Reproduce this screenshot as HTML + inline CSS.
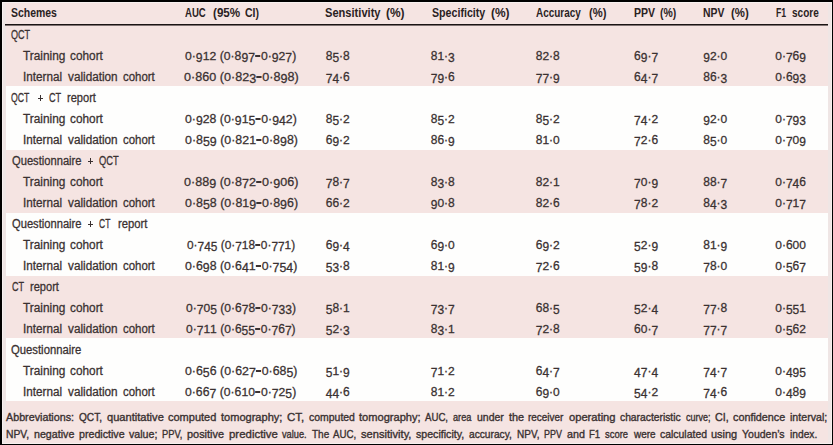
<!DOCTYPE html>
<html><head><meta charset="utf-8"><style>
html,body{margin:0;padding:0;width:833px;height:445px;overflow:hidden;background:#000}
#in{position:absolute;left:2px;top:2px;width:830px;height:442px;background:#f5e4e2;overflow:hidden}
.b{position:absolute;left:3.5px;width:822px;background:#fefefd}
.e{position:absolute;background:#f7f0ef}
div.t,div.h,div.fn{position:absolute;white-space:nowrap;font-family:"Liberation Sans",sans-serif;transform-origin:0 0}
.t{font-size:12.0px;line-height:12.0px;color:#3a3131;-webkit-text-stroke:0.28px #3a3131}
.fn{font-size:11.0px;line-height:11.0px;color:#3a3131;-webkit-text-stroke:0.36px #3a3131}
.h{font-weight:bold;font-size:12.0px;line-height:12.0px;color:#2a2222}
i{font-style:normal;display:inline-block}
b.n{display:inline-block;width:5px;height:1.8px;margin:0 0.4px;vertical-align:2.4px;background:#3a3131}
i.d{transform:translateY(1.8px) scaleY(1.1);transform-origin:50% 9.97px}
i.s{transform:scaleY(0.9);transform-origin:50% 9.97px}
i.a{transform:scaleY(1.07);transform-origin:50% 9.97px}
.s3{position:absolute;background:#efe6e5}
.pl{position:absolute;background:#3a3131}
#hl{position:absolute;left:3px;top:22px;width:823px;height:1px;background:#1a1414;box-shadow:0 1px 0 rgba(30,22,22,0.55)}
</style></head><body>
<div id="in">
<div class="b" style="top:84px;height:64px"></div>
<div class="b" style="top:210.5px;height:63.0px"></div>
<div class="b" style="top:336px;height:63px"></div>
<div class="s3" style="left:1px;top:1px;width:2.5px;height:440px"></div><div class="s3" style="left:825.5px;top:1px;width:3.5px;height:440px"></div>
<div id="hl"></div>
<div class="e" style="left:0;top:0;width:1px;height:442px"></div><div class="e" style="right:0;top:0;width:1px;height:442px"></div><div class="e" style="left:0;top:0;width:830px;height:1px"></div><div class="e" style="left:0;bottom:0;width:830px;height:1px"></div>
<div class="h" style="left:9.10px;top:4.63px;transform:scaleX(0.8713)">Schemes</div>
<div class="h" style="left:183.20px;top:4.63px;transform:scaleX(0.7975)">AUC</div>
<div class="h" style="left:210.70px;top:4.63px;transform:scaleX(0.9702)">(95%</div>
<div class="h" style="left:243.10px;top:4.63px;transform:scaleX(0.8750)">CI)</div>
<div class="h" style="left:323.10px;top:4.63px;transform:scaleX(0.9246)">Sensitivity</div>
<div class="h" style="left:384.30px;top:4.63px;transform:scaleX(0.9965)">(%)</div>
<div class="h" style="left:429.90px;top:4.63px;transform:scaleX(0.8865)">Specificity</div>
<div class="h" style="left:488.80px;top:4.63px;transform:scaleX(0.9965)">(%)</div>
<div class="h" style="left:534.30px;top:4.63px;transform:scaleX(0.8278)">Accuracy</div>
<div class="h" style="left:587.10px;top:4.63px;transform:scaleX(0.9322)">(%)</div>
<div class="h" style="left:631.50px;top:4.63px;transform:scaleX(0.8747)">PPV</div>
<div class="h" style="left:658.00px;top:4.63px;transform:scaleX(0.8679)">(%)</div>
<div class="h" style="left:701.30px;top:4.63px;transform:scaleX(0.8675)">NPV</div>
<div class="h" style="left:728.90px;top:4.63px;transform:scaleX(0.9482)">(%)</div>
<div class="h" style="left:773.90px;top:4.63px;transform:scaleX(0.7257)">F1</div>
<div class="h" style="left:790.40px;top:4.63px;transform:scaleX(0.8347)">score</div>
<div class="t" style="left:9.20px;top:26.53px;transform:scaleX(0.7538)">QCT</div>
<div class="t" style="left:21.20px;top:47.53px;transform:scaleX(0.9873)">Training</div>
<div class="t" style="left:68.40px;top:47.53px;transform:scaleX(0.9848)">cohort</div>
<div class="t" style="left:183.49px;top:47.53px;transform:scaleX(1.0168)"><i class="s">0</i>·<i class="d">9</i><i class="s">1</i><i class="s">2</i> (<i class="s">0</i>·<i class="a">8</i><i class="d">9</i><i class="d">7</i><b class="n"></b><i class="s">0</i>·<i class="d">9</i><i class="s">2</i><i class="d">7</i>)</div>
<div class="t" style="left:323.70px;top:47.53px"><i class="a">8</i><i class="d">5</i>·<i class="a">8</i></div>
<div class="t" style="left:428.70px;top:47.53px"><i class="a">8</i><i class="s">1</i>·<i class="d">3</i></div>
<div class="t" style="left:533.70px;top:47.53px"><i class="a">8</i><i class="s">2</i>·<i class="a">8</i></div>
<div class="t" style="left:632.00px;top:47.53px"><i class="a">6</i><i class="d">9</i>·<i class="d">7</i></div>
<div class="t" style="left:701.20px;top:47.53px"><i class="d">9</i><i class="s">2</i>·<i class="s">0</i></div>
<div class="t" style="left:773.20px;top:47.53px"><i class="s">0</i>·<i class="d">7</i><i class="a">6</i><i class="d">9</i></div>
<div class="t" style="left:20.63px;top:68.53px;transform:scaleX(0.9750)">Internal</div>
<div class="t" style="left:65.90px;top:68.53px;transform:scaleX(0.9795)">validation</div>
<div class="t" style="left:121.40px;top:68.53px;transform:scaleX(0.9524)">cohort</div>
<div class="t" style="left:181.76px;top:68.53px;transform:scaleX(1.0482)"><i class="s">0</i>·<i class="a">8</i><i class="a">6</i><i class="s">0</i> (<i class="s">0</i>·<i class="a">8</i><i class="s">2</i><i class="d">3</i><b class="n"></b><i class="s">0</i>·<i class="a">8</i><i class="d">9</i><i class="a">8</i>)</div>
<div class="t" style="left:323.70px;top:68.53px"><i class="d">7</i><i class="d">4</i>·<i class="a">6</i></div>
<div class="t" style="left:428.70px;top:68.53px"><i class="d">7</i><i class="d">9</i>·<i class="a">6</i></div>
<div class="t" style="left:533.70px;top:68.53px"><i class="d">7</i><i class="d">7</i>·<i class="d">9</i></div>
<div class="t" style="left:632.00px;top:68.53px"><i class="a">6</i><i class="d">4</i>·<i class="d">7</i></div>
<div class="t" style="left:701.20px;top:68.53px"><i class="a">8</i><i class="a">6</i>·<i class="d">3</i></div>
<div class="t" style="left:773.20px;top:68.53px"><i class="s">0</i>·<i class="a">6</i><i class="d">9</i><i class="d">3</i></div>
<div class="t" style="left:9.40px;top:89.53px;transform:scaleX(0.7269)">QCT</div>
<div class="pl" style="left:35.70px;top:95.65px;width:5.4px;height:1.3px"></div><div class="pl" style="left:37.70px;top:93.40px;width:1.4px;height:5.8px"></div>
<div class="t" style="left:46.70px;top:89.53px;transform:scaleX(0.7620)">CT</div>
<div class="t" style="left:65.20px;top:89.53px;transform:scaleX(0.9215)">report</div>
<div class="t" style="left:21.20px;top:110.53px;transform:scaleX(0.9873)">Training</div>
<div class="t" style="left:68.40px;top:110.53px;transform:scaleX(0.9848)">cohort</div>
<div class="t" style="left:183.23px;top:110.53px;transform:scaleX(1.0215)"><i class="s">0</i>·<i class="d">9</i><i class="s">2</i><i class="a">8</i> (<i class="s">0</i>·<i class="d">9</i><i class="s">1</i><i class="d">5</i><b class="n"></b><i class="s">0</i>·<i class="d">9</i><i class="d">4</i><i class="s">2</i>)</div>
<div class="t" style="left:323.70px;top:110.53px"><i class="a">8</i><i class="d">5</i>·<i class="s">2</i></div>
<div class="t" style="left:428.70px;top:110.53px"><i class="a">8</i><i class="d">5</i>·<i class="s">2</i></div>
<div class="t" style="left:533.70px;top:110.53px"><i class="a">8</i><i class="d">5</i>·<i class="s">2</i></div>
<div class="t" style="left:632.00px;top:110.53px"><i class="d">7</i><i class="d">4</i>·<i class="s">2</i></div>
<div class="t" style="left:701.20px;top:110.53px"><i class="d">9</i><i class="s">2</i>·<i class="s">0</i></div>
<div class="t" style="left:773.20px;top:110.53px"><i class="s">0</i>·<i class="d">7</i><i class="d">9</i><i class="d">3</i></div>
<div class="t" style="left:20.63px;top:131.53px;transform:scaleX(0.9750)">Internal</div>
<div class="t" style="left:65.90px;top:131.53px;transform:scaleX(0.9795)">validation</div>
<div class="t" style="left:121.40px;top:131.53px;transform:scaleX(0.9524)">cohort</div>
<div class="t" style="left:182.62px;top:131.53px;transform:scaleX(1.0325)"><i class="s">0</i>·<i class="a">8</i><i class="d">5</i><i class="d">9</i> (<i class="s">0</i>·<i class="a">8</i><i class="s">2</i><i class="s">1</i><b class="n"></b><i class="s">0</i>·<i class="a">8</i><i class="d">9</i><i class="a">8</i>)</div>
<div class="t" style="left:323.70px;top:131.53px"><i class="a">6</i><i class="d">9</i>·<i class="s">2</i></div>
<div class="t" style="left:428.70px;top:131.53px"><i class="a">8</i><i class="a">6</i>·<i class="d">9</i></div>
<div class="t" style="left:533.70px;top:131.53px"><i class="a">8</i><i class="s">1</i>·<i class="s">0</i></div>
<div class="t" style="left:632.00px;top:131.53px"><i class="d">7</i><i class="s">2</i>·<i class="a">6</i></div>
<div class="t" style="left:701.20px;top:131.53px"><i class="a">8</i><i class="d">5</i>·<i class="s">0</i></div>
<div class="t" style="left:773.20px;top:131.53px"><i class="s">0</i>·<i class="d">7</i><i class="s">0</i><i class="d">9</i></div>
<div class="t" style="left:9.80px;top:152.53px;transform:scaleX(0.9302)">Questionnaire</div>
<div class="pl" style="left:86.10px;top:158.65px;width:5.4px;height:1.3px"></div><div class="pl" style="left:88.10px;top:156.40px;width:1.4px;height:5.8px"></div>
<div class="t" style="left:97.20px;top:152.53px;transform:scaleX(0.7769)">QCT</div>
<div class="t" style="left:21.20px;top:173.53px;transform:scaleX(0.9873)">Training</div>
<div class="t" style="left:68.40px;top:173.53px;transform:scaleX(0.9848)">cohort</div>
<div class="t" style="left:181.86px;top:173.53px;transform:scaleX(1.0464)"><i class="s">0</i>·<i class="a">8</i><i class="a">8</i><i class="d">9</i> (<i class="s">0</i>·<i class="a">8</i><i class="d">7</i><i class="s">2</i><b class="n"></b><i class="s">0</i>·<i class="d">9</i><i class="s">0</i><i class="a">6</i>)</div>
<div class="t" style="left:323.70px;top:173.53px"><i class="d">7</i><i class="a">8</i>·<i class="d">7</i></div>
<div class="t" style="left:428.70px;top:173.53px"><i class="a">8</i><i class="d">3</i>·<i class="a">8</i></div>
<div class="t" style="left:533.70px;top:173.53px"><i class="a">8</i><i class="s">2</i>·<i class="s">1</i></div>
<div class="t" style="left:632.00px;top:173.53px"><i class="d">7</i><i class="s">0</i>·<i class="d">9</i></div>
<div class="t" style="left:701.20px;top:173.53px"><i class="a">8</i><i class="a">8</i>·<i class="d">7</i></div>
<div class="t" style="left:773.20px;top:173.53px"><i class="s">0</i>·<i class="d">7</i><i class="d">4</i><i class="a">6</i></div>
<div class="t" style="left:20.63px;top:194.53px;transform:scaleX(0.9750)">Internal</div>
<div class="t" style="left:65.90px;top:194.53px;transform:scaleX(0.9795)">validation</div>
<div class="t" style="left:121.40px;top:194.53px;transform:scaleX(0.9524)">cohort</div>
<div class="t" style="left:182.57px;top:194.53px;transform:scaleX(1.0334)"><i class="s">0</i>·<i class="a">8</i><i class="d">5</i><i class="a">8</i> (<i class="s">0</i>·<i class="a">8</i><i class="s">1</i><i class="d">9</i><b class="n"></b><i class="s">0</i>·<i class="a">8</i><i class="d">9</i><i class="a">6</i>)</div>
<div class="t" style="left:323.70px;top:194.53px"><i class="a">6</i><i class="a">6</i>·<i class="s">2</i></div>
<div class="t" style="left:428.70px;top:194.53px"><i class="d">9</i><i class="s">0</i>·<i class="a">8</i></div>
<div class="t" style="left:533.70px;top:194.53px"><i class="a">8</i><i class="s">2</i>·<i class="a">6</i></div>
<div class="t" style="left:632.00px;top:194.53px"><i class="d">7</i><i class="a">8</i>·<i class="s">2</i></div>
<div class="t" style="left:701.20px;top:194.53px"><i class="a">8</i><i class="d">4</i>·<i class="d">3</i></div>
<div class="t" style="left:773.20px;top:194.53px"><i class="s">0</i>·<i class="d">7</i><i class="s">1</i><i class="d">7</i></div>
<div class="t" style="left:9.80px;top:215.53px;transform:scaleX(0.9302)">Questionnaire</div>
<div class="pl" style="left:86.10px;top:221.65px;width:5.4px;height:1.3px"></div><div class="pl" style="left:88.10px;top:219.40px;width:1.4px;height:5.8px"></div>
<div class="t" style="left:97.20px;top:215.53px;transform:scaleX(0.7080)">CT</div>
<div class="t" style="left:115.60px;top:215.53px;transform:scaleX(0.9371)">report</div>
<div class="t" style="left:21.20px;top:236.53px;transform:scaleX(0.9873)">Training</div>
<div class="t" style="left:68.40px;top:236.53px;transform:scaleX(0.9848)">cohort</div>
<div class="t" style="left:185.01px;top:236.53px;transform:scaleX(0.9892)"><i class="s">0</i>·<i class="d">7</i><i class="d">4</i><i class="d">5</i> (<i class="s">0</i>·<i class="d">7</i><i class="s">1</i><i class="a">8</i><b class="n"></b><i class="s">0</i>·<i class="d">7</i><i class="d">7</i><i class="s">1</i>)</div>
<div class="t" style="left:323.70px;top:236.53px"><i class="a">6</i><i class="d">9</i>·<i class="d">4</i></div>
<div class="t" style="left:428.70px;top:236.53px"><i class="a">6</i><i class="d">9</i>·<i class="s">0</i></div>
<div class="t" style="left:533.70px;top:236.53px"><i class="a">6</i><i class="d">9</i>·<i class="s">2</i></div>
<div class="t" style="left:632.00px;top:236.53px"><i class="d">5</i><i class="s">2</i>·<i class="d">9</i></div>
<div class="t" style="left:701.20px;top:236.53px"><i class="a">8</i><i class="s">1</i>·<i class="d">9</i></div>
<div class="t" style="left:773.20px;top:236.53px"><i class="s">0</i>·<i class="a">6</i><i class="s">0</i><i class="s">0</i></div>
<div class="t" style="left:20.63px;top:257.53px;transform:scaleX(0.9750)">Internal</div>
<div class="t" style="left:65.90px;top:257.53px;transform:scaleX(0.9795)">validation</div>
<div class="t" style="left:121.40px;top:257.53px;transform:scaleX(0.9524)">cohort</div>
<div class="t" style="left:182.93px;top:257.53px;transform:scaleX(1.0270)"><i class="s">0</i>·<i class="a">6</i><i class="d">9</i><i class="a">8</i> (<i class="s">0</i>·<i class="a">6</i><i class="d">4</i><i class="s">1</i><b class="n"></b><i class="s">0</i>·<i class="d">7</i><i class="d">5</i><i class="d">4</i>)</div>
<div class="t" style="left:323.70px;top:257.53px"><i class="d">5</i><i class="d">3</i>·<i class="a">8</i></div>
<div class="t" style="left:428.70px;top:257.53px"><i class="a">8</i><i class="s">1</i>·<i class="d">9</i></div>
<div class="t" style="left:533.70px;top:257.53px"><i class="d">7</i><i class="s">2</i>·<i class="a">6</i></div>
<div class="t" style="left:632.00px;top:257.53px"><i class="d">5</i><i class="d">9</i>·<i class="a">8</i></div>
<div class="t" style="left:701.20px;top:257.53px"><i class="d">7</i><i class="a">8</i>·<i class="s">0</i></div>
<div class="t" style="left:773.20px;top:257.53px"><i class="s">0</i>·<i class="d">5</i><i class="a">6</i><i class="d">7</i></div>
<div class="t" style="left:9.80px;top:278.53px;transform:scaleX(0.7560)">CT</div>
<div class="t" style="left:28.20px;top:278.53px;transform:scaleX(0.9215)">report</div>
<div class="t" style="left:21.20px;top:299.53px;transform:scaleX(0.9873)">Training</div>
<div class="t" style="left:68.40px;top:299.53px;transform:scaleX(0.9848)">cohort</div>
<div class="t" style="left:184.10px;top:299.53px;transform:scaleX(1.0058)"><i class="s">0</i>·<i class="d">7</i><i class="s">0</i><i class="d">5</i> (<i class="s">0</i>·<i class="a">6</i><i class="d">7</i><i class="a">8</i><b class="n"></b><i class="s">0</i>·<i class="d">7</i><i class="d">3</i><i class="d">3</i>)</div>
<div class="t" style="left:323.70px;top:299.53px"><i class="d">5</i><i class="a">8</i>·<i class="s">1</i></div>
<div class="t" style="left:428.70px;top:299.53px"><i class="d">7</i><i class="d">3</i>·<i class="d">7</i></div>
<div class="t" style="left:533.70px;top:299.53px"><i class="a">6</i><i class="a">8</i>·<i class="d">5</i></div>
<div class="t" style="left:632.00px;top:299.53px"><i class="d">5</i><i class="s">2</i>·<i class="d">4</i></div>
<div class="t" style="left:701.20px;top:299.53px"><i class="d">7</i><i class="d">7</i>·<i class="a">8</i></div>
<div class="t" style="left:773.20px;top:299.53px"><i class="s">0</i>·<i class="d">5</i><i class="d">5</i><i class="s">1</i></div>
<div class="t" style="left:20.63px;top:320.53px;transform:scaleX(0.9750)">Internal</div>
<div class="t" style="left:65.90px;top:320.53px;transform:scaleX(0.9795)">validation</div>
<div class="t" style="left:121.40px;top:320.53px;transform:scaleX(0.9524)">cohort</div>
<div class="t" style="left:184.30px;top:320.53px;transform:scaleX(1.0021)"><i class="s">0</i>·<i class="d">7</i><i class="s">1</i><i class="s">1</i> (<i class="s">0</i>·<i class="a">6</i><i class="d">5</i><i class="d">5</i><b class="n"></b><i class="s">0</i>·<i class="d">7</i><i class="a">6</i><i class="d">7</i>)</div>
<div class="t" style="left:323.70px;top:320.53px"><i class="d">5</i><i class="s">2</i>·<i class="d">3</i></div>
<div class="t" style="left:428.70px;top:320.53px"><i class="a">8</i><i class="d">3</i>·<i class="s">1</i></div>
<div class="t" style="left:533.70px;top:320.53px"><i class="d">7</i><i class="s">2</i>·<i class="a">8</i></div>
<div class="t" style="left:632.00px;top:320.53px"><i class="a">6</i><i class="s">0</i>·<i class="d">7</i></div>
<div class="t" style="left:701.20px;top:320.53px"><i class="d">7</i><i class="d">7</i>·<i class="d">7</i></div>
<div class="t" style="left:773.20px;top:320.53px"><i class="s">0</i>·<i class="d">5</i><i class="a">6</i><i class="s">2</i></div>
<div class="t" style="left:9.40px;top:341.53px;transform:scaleX(0.9408)">Questionnaire</div>
<div class="t" style="left:21.20px;top:362.53px;transform:scaleX(0.9873)">Training</div>
<div class="t" style="left:68.40px;top:362.53px;transform:scaleX(0.9848)">cohort</div>
<div class="t" style="left:182.88px;top:362.53px;transform:scaleX(1.0279)"><i class="s">0</i>·<i class="a">6</i><i class="d">5</i><i class="a">6</i> (<i class="s">0</i>·<i class="a">6</i><i class="s">2</i><i class="d">7</i><b class="n"></b><i class="s">0</i>·<i class="a">6</i><i class="a">8</i><i class="d">5</i>)</div>
<div class="t" style="left:323.70px;top:362.53px"><i class="d">5</i><i class="s">1</i>·<i class="d">9</i></div>
<div class="t" style="left:428.70px;top:362.53px"><i class="d">7</i><i class="s">1</i>·<i class="s">2</i></div>
<div class="t" style="left:533.70px;top:362.53px"><i class="a">6</i><i class="d">4</i>·<i class="d">7</i></div>
<div class="t" style="left:632.00px;top:362.53px"><i class="d">4</i><i class="d">7</i>·<i class="d">4</i></div>
<div class="t" style="left:701.20px;top:362.53px"><i class="d">7</i><i class="d">4</i>·<i class="d">7</i></div>
<div class="t" style="left:773.20px;top:362.53px"><i class="s">0</i>·<i class="d">4</i><i class="d">9</i><i class="d">5</i></div>
<div class="t" style="left:20.63px;top:383.53px;transform:scaleX(0.9750)">Internal</div>
<div class="t" style="left:65.90px;top:383.53px;transform:scaleX(0.9795)">validation</div>
<div class="t" style="left:121.40px;top:383.53px;transform:scaleX(0.9524)">cohort</div>
<div class="t" style="left:183.49px;top:383.53px;transform:scaleX(1.0168)"><i class="s">0</i>·<i class="a">6</i><i class="a">6</i><i class="d">7</i> (<i class="s">0</i>·<i class="a">6</i><i class="s">1</i><i class="s">0</i><b class="n"></b><i class="s">0</i>·<i class="d">7</i><i class="s">2</i><i class="d">5</i>)</div>
<div class="t" style="left:323.70px;top:383.53px"><i class="d">4</i><i class="d">4</i>·<i class="a">6</i></div>
<div class="t" style="left:428.70px;top:383.53px"><i class="a">8</i><i class="s">1</i>·<i class="s">2</i></div>
<div class="t" style="left:533.70px;top:383.53px"><i class="a">6</i><i class="d">9</i>·<i class="s">0</i></div>
<div class="t" style="left:632.00px;top:383.53px"><i class="d">5</i><i class="d">4</i>·<i class="s">2</i></div>
<div class="t" style="left:701.20px;top:383.53px"><i class="d">7</i><i class="d">4</i>·<i class="a">6</i></div>
<div class="t" style="left:773.20px;top:383.53px"><i class="s">0</i>·<i class="d">4</i><i class="a">8</i><i class="d">9</i></div>
<div class="fn" style="left:4.15px;top:410.16px;transform:scaleX(0.9763)">Abbreviations:</div>
<div class="fn" style="left:76.85px;top:410.16px;transform:scaleX(0.9200)">QCT,</div>
<div class="fn" style="left:104.55px;top:410.16px;transform:scaleX(1.0099)">quantitative</div>
<div class="fn" style="left:165.95px;top:410.16px;transform:scaleX(1.0002)">computed</div>
<div class="fn" style="left:218.85px;top:410.16px;transform:scaleX(1.0035)">tomography;</div>
<div class="fn" style="left:284.85px;top:410.16px;transform:scaleX(1.0399)">CT,</div>
<div class="fn" style="left:306.65px;top:410.16px;transform:scaleX(0.9504)">computed</div>
<div class="fn" style="left:357.15px;top:410.16px;transform:scaleX(1.0084)">tomography;</div>
<div class="fn" style="left:423.45px;top:410.16px;transform:scaleX(0.8770)">AUC,</div>
<div class="fn" style="left:451.15px;top:410.16px;transform:scaleX(0.8341)">area</div>
<div class="fn" style="left:474.95px;top:410.16px;transform:scaleX(0.9519)">under</div>
<div class="fn" style="left:506.75px;top:410.16px;transform:scaleX(0.9885)">the</div>
<div class="fn" style="left:526.45px;top:410.16px;transform:scaleX(0.9022)">receiver</div>
<div class="fn" style="left:566.75px;top:410.16px;transform:scaleX(1.0142)">operating</div>
<div class="fn" style="left:617.85px;top:410.16px;transform:scaleX(0.9357)">characteristic</div>
<div class="fn" style="left:683.65px;top:410.16px;transform:scaleX(0.8161)">curve;</div>
<div class="fn" style="left:712.75px;top:410.16px;transform:scaleX(0.9786)">CI,</div>
<div class="fn" style="left:731.15px;top:410.16px;transform:scaleX(0.9814)">confidence</div>
<div class="fn" style="left:787.95px;top:410.16px;transform:scaleX(0.9672)">interval;</div>
<div class="fn" style="left:4.15px;top:427.06px;transform:scaleX(0.9387)">NPV,</div>
<div class="fn" style="left:31.95px;top:427.06px;transform:scaleX(0.9694)">negative</div>
<div class="fn" style="left:76.85px;top:427.06px;transform:scaleX(0.9689)">predictive</div>
<div class="fn" style="left:127.05px;top:427.06px;transform:scaleX(0.9660)">value;</div>
<div class="fn" style="left:160.05px;top:427.06px;transform:scaleX(0.8500)">PPV,</div>
<div class="fn" style="left:185.15px;top:427.06px;transform:scaleX(0.9925)">positive</div>
<div class="fn" style="left:226.75px;top:427.06px;transform:scaleX(1.0392)">predictive</div>
<div class="fn" style="left:280.25px;top:427.06px;transform:scaleX(0.8397)">value.</div>
<div class="fn" style="left:309.55px;top:427.06px;transform:scaleX(0.9078)">The</div>
<div class="fn" style="left:331.35px;top:427.06px;transform:scaleX(0.8809)">AUC,</div>
<div class="fn" style="left:359.15px;top:427.06px;transform:scaleX(1.0108)">sensitivity,</div>
<div class="fn" style="left:414.25px;top:427.06px;transform:scaleX(0.9646)">specificity,</div>
<div class="fn" style="left:467.05px;top:427.06px;transform:scaleX(0.9264)">accuracy,</div>
<div class="fn" style="left:514.55px;top:427.06px;transform:scaleX(0.9103)">NPV,</div>
<div class="fn" style="left:541.65px;top:427.06px;transform:scaleX(0.8115)">PPV</div>
<div class="fn" style="left:564.75px;top:427.06px;transform:scaleX(0.9761)">and</div>
<div class="fn" style="left:587.25px;top:427.06px;transform:scaleX(0.8727)">F1</div>
<div class="fn" style="left:603.05px;top:427.06px;transform:scaleX(0.8588)">score</div>
<div class="fn" style="left:631.66px;top:427.06px;transform:scaleX(0.9060)">were</div>
<div class="fn" style="left:657.85px;top:427.06px;transform:scaleX(0.9491)">calculated</div>
<div class="fn" style="left:709.45px;top:427.06px;transform:scaleX(0.9970)">using</div>
<div class="fn" style="left:740.25px;top:427.06px;transform:scaleX(0.9544)">Youden’s</div>
<div class="fn" style="left:788.05px;top:427.06px;transform:scaleX(0.9284)">index.</div>
</div></body></html>
